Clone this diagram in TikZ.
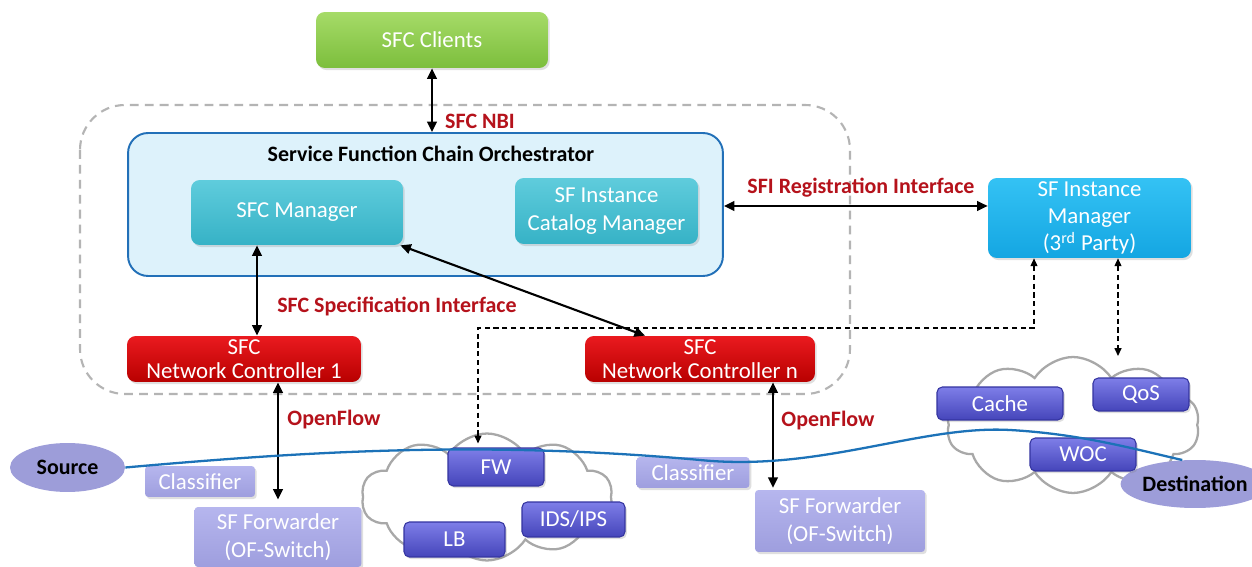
\documentclass[tikz,border=0pt]{standalone}
\usepackage{fontspec}
\setmainfont{Carlito}
\usetikzlibrary{arrows.meta,shapes.geometric,shapes.symbols,shadows,calc}
\definecolor{lblred}{HTML}{B5121B}
\definecolor{cliTop}{HTML}{A6DB68}
\definecolor{cliBot}{HTML}{7CBE3C}
\definecolor{orchFill}{HTML}{DDF2FB}
\definecolor{orchLine}{HTML}{2270B8}
\definecolor{tealTop}{HTML}{5FCCDC}
\definecolor{tealBot}{HTML}{36B2C6}
\definecolor{skyTop}{HTML}{34C2F4}
\definecolor{skyBot}{HTML}{14A6E2}
\definecolor{redTop}{HTML}{EA1A1F}
\definecolor{redBot}{HTML}{B80000}
\definecolor{lavTop}{HTML}{B6B6EE}
\definecolor{lavBot}{HTML}{9E9EDE}
\definecolor{purTop}{HTML}{7E7EE8}
\definecolor{purBot}{HTML}{4545BA}
\definecolor{purLine}{HTML}{3434A0}
\definecolor{ellFill}{HTML}{9D9DD9}
\definecolor{flowBlue}{HTML}{1C72B8}
\definecolor{bndGray}{HTML}{B4B4B4}
\definecolor{cloudGray}{HTML}{A8A8A8}
\newcommand\wfnt{\fontsize{13}{15}\selectfont}
\newcommand\bfnt{\fontsize{12.5}{15}\selectfont\bfseries}
\tikzset{
  wbox/.style={rounded corners=5pt, inner sep=0pt, align=center, text=white, font=\wfnt,
    drop shadow={shadow xshift=1pt, shadow yshift=-1.2pt, opacity=0.25}},
  clientbox/.style={wbox, top color=cliTop, bottom color=cliBot},
  tealbox/.style={wbox, top color=tealTop, bottom color=tealBot},
  skybox/.style={wbox, top color=skyTop, bottom color=skyBot},
  redbox/.style={wbox, top color=redTop, bottom color=redBot, font=\fontsize{13}{13.4}\selectfont},
  lavbox/.style={wbox, rounded corners=2pt, top color=lavTop, bottom color=lavBot},
  purbox/.style={wbox, rounded corners=3pt, top color=purTop, bottom color=purBot, draw=purLine, line width=0.6pt},
  ell/.style={ellipse, fill=ellFill, inner sep=0pt, font=\bfnt, text=black},
  cloudy/.style={cloud, cloud puffs=10, cloud puff arc=115, draw=cloudGray, line width=1.3pt, fill=white, inner sep=0pt},
  redlbl/.style={font=\bfnt, text=lblred, inner sep=0pt},
  conn/.style={line width=1.2pt, {Triangle[length=6pt,width=5.5pt]}-{Triangle[length=6pt,width=5.5pt]}},
  dconn/.style={line width=0.7pt, dash pattern=on 3pt off 2pt, {Triangle[length=4.5pt,width=4pt]}-{Triangle[length=4.5pt,width=4pt]}},
  flow/.style={draw=flowBlue, line width=1.3pt}
}
\begin{document}
\begin{tikzpicture}[x=0.02cm,y=-0.02cm]
\useasboundingbox[fill=white] (0,0) rectangle (1252,567);

% gray dashed boundary
\draw[bndGray, line width=1.2pt, dash pattern=on 5pt off 3.5pt, rounded corners=0.9cm] (80,105) rectangle (850,394);

% clouds
\node[cloudy, minimum width=5.02cm, minimum height=2.54cm] (cloudA) at (487,497) {};
\node[cloudy, minimum width=5.06cm, minimum height=2.72cm] (cloudB) at (1073,425) {};

% top part
\node[clientbox, minimum width=4.64cm, minimum height=1.12cm] (clients) at (432,40) {SFC Clients};
\node[rounded corners=0.4cm, fill=orchFill, draw=orchLine, line width=1.1pt, minimum width=11.9cm, minimum height=2.86cm] (orch) at (425.5,204.5) {};
\node[font=\bfnt, inner sep=0pt] (orchT) at (431,154) {Service Function Chain Orchestrator};
\node[tealbox, minimum width=4.24cm, minimum height=1.3cm] (mgr) at (297,212.5) {SFC Manager};
\node[tealbox, minimum width=3.66cm, minimum height=1.32cm, font=\fontsize{13}{15.5}\selectfont] (cat) at (606.5,211) {SF Instance\\Catalog Manager};
\node[skybox, minimum width=4.06cm, minimum height=1.6cm, font=\fontsize{13}{15.5}\selectfont] (sfim) at (1089.5,218) {SF Instance\\Manager\\(3\textsuperscript{rd} Party)};
\node[redbox, minimum width=4.68cm, minimum height=0.92cm] (nc1) at (244,359) {SFC\\Network Controller 1};
\node[redbox, minimum width=4.6cm, minimum height=0.92cm] (ncn) at (700,359) {SFC\\Network Controller n};

% bottom part
\node[ell, minimum width=2.3cm, minimum height=0.98cm] (src) at (67.5,467.5) {Source};
\node[ell, minimum width=2.36cm, minimum height=0.96cm] (dst) at (1195,484) {Destination};
\node[lavbox, minimum width=2.2cm, minimum height=0.62cm] (cls1) at (200,481.5) {Classifier};
\node[lavbox, minimum width=3.34cm, minimum height=1.2cm, font=\fontsize{13}{16}\selectfont] (fwd1) at (278,537) {SF Forwarder\\(OF-Switch)};
\node[lavbox, minimum width=2.26cm, minimum height=0.62cm] (cls2) at (693,472.5) {Classifier};
\node[lavbox, minimum width=3.4cm, minimum height=1.24cm, font=\fontsize{13}{16}\selectfont] (fwd2) at (840,521) {SF Forwarder\\(OF-Switch)};
\node[purbox, minimum width=1.92cm, minimum height=0.76cm] (fw) at (496,467) {FW};
\node[purbox, minimum width=2.06cm, minimum height=0.7cm] (ids) at (573.5,519.5) {IDS/IPS};
\node[purbox, minimum width=2.02cm, minimum height=0.7cm] (lb) at (454.5,539.5) {LB};
\node[purbox, minimum width=2.52cm, minimum height=0.66cm] (cache) at (1000,403.5) {Cache};
\node[purbox, minimum width=1.92cm, minimum height=0.66cm] (qos) at (1141,394.5) {QoS};
\node[purbox, minimum width=2.12cm, minimum height=0.66cm] (woc) at (1083,454.5) {WOC};

% connectors
\draw[conn] (clients.south) -- (clients.south |- orch.north);
\draw[conn] (orch.east |- 0,206) -- (sfim.west |- 0,206);
\draw[conn] (mgr.south -| 257,0) -- (nc1.north -| 257,0);
\draw[conn] ($(mgr.south east)+(-3,0)$) -- ($(ncn.north)+(-55,0)$);
\draw[conn, shorten >=4pt] (nc1.south -| 278,0) -- (fwd1.north -| 278,0);
\draw[conn, shorten >=1pt] (ncn.south -| 773,0) -- (fwd2.north -| 773,0);
\draw[dconn] (sfim.south -| 1034,0) |- (478,328) -- ($(fw.north)+(-18,-4)$);
\draw[dconn] (sfim.south -| 1118,0) -- (1118,356);

% labels
\node[redlbl] (lnbi) at (480,121) {SFC NBI};
\node[redlbl] (lsfi) at (861,188) {SFI Registration Interface};
\node[redlbl] (lspec) at (397,307) {SFC Specification Interface};
\node[redlbl] (lof1) at (334,420) {OpenFlow};
\node[redlbl] (lof2) at (828,421) {OpenFlow};

% traffic flow
\draw[flow] (src.east) .. controls (300,452) and (480,440) .. (700,460)
  .. controls (820,472) and (920,425) .. (1010,430)
  .. controls (1080,434) and (1130,448) .. (dst.118);
\end{tikzpicture}
\end{document}
